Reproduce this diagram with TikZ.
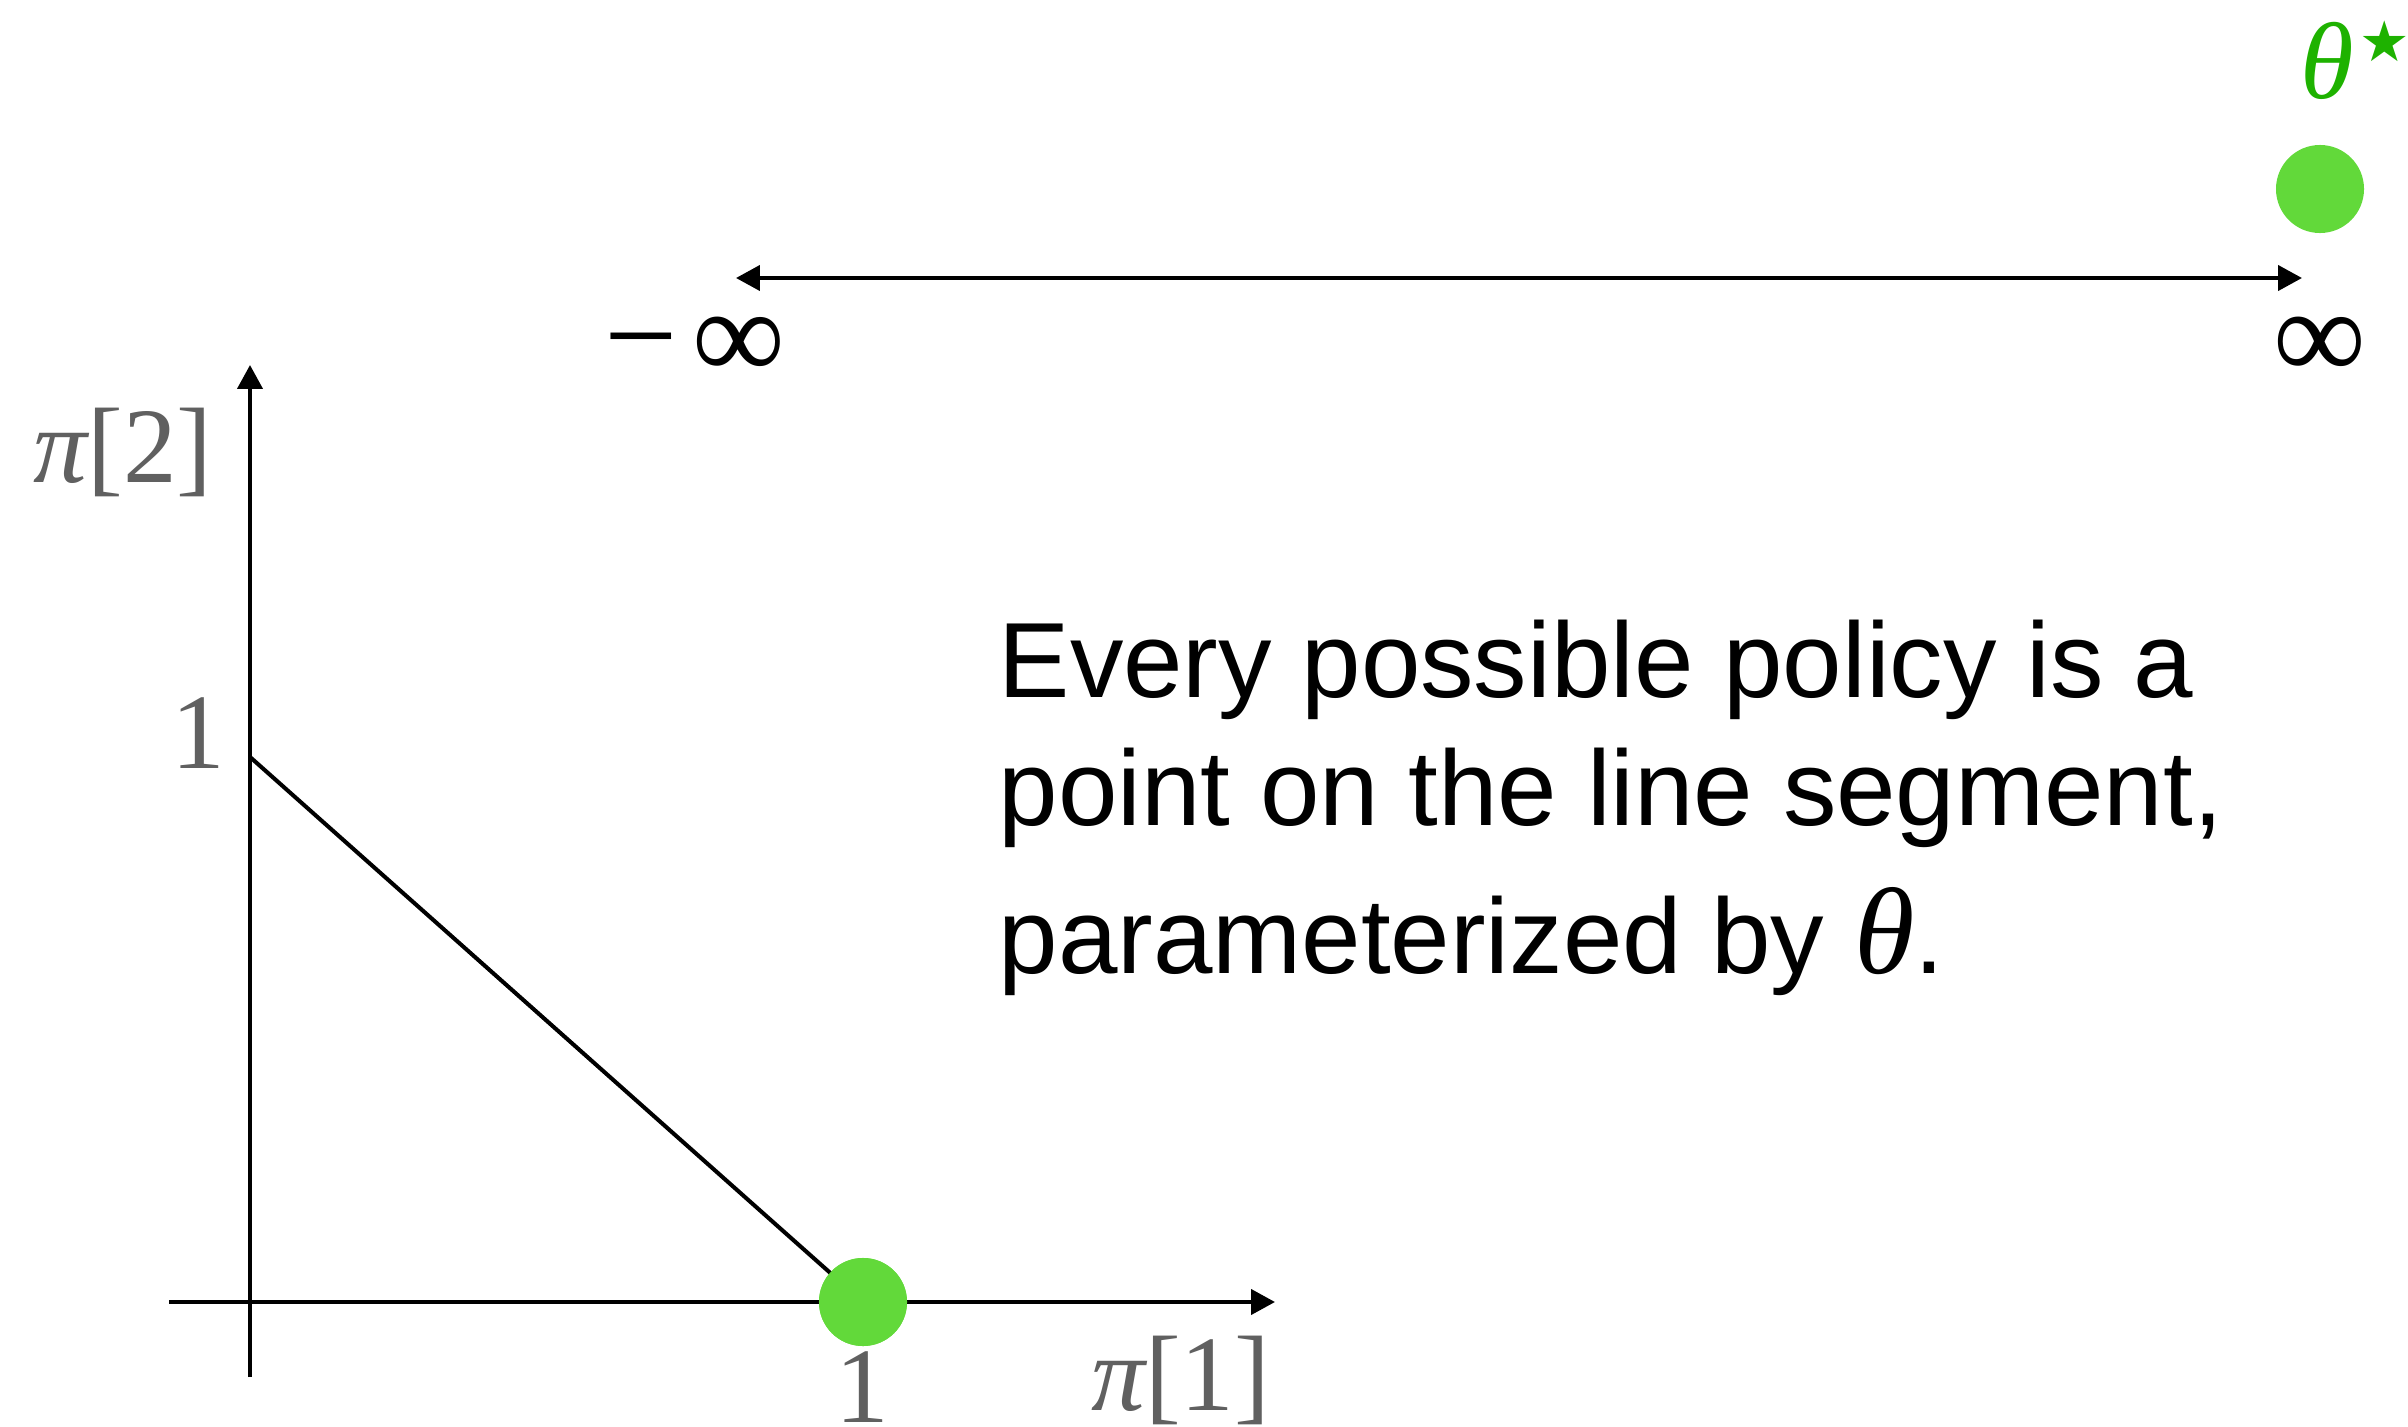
\documentclass[tikz,border=0pt]{standalone}
\usepackage{fontspec}
\setmainfont{Liberation Sans}
\newfontfamily\lblserif{Liberation Serif}
\newfontfamily\symfont{DejaVu Sans}
\usetikzlibrary{arrows.meta}
\definecolor{dotgreen}{RGB}{98,217,58}
\definecolor{labelgreen}{RGB}{30,178,0}
\definecolor{axisgray}{RGB}{96,96,96}
\begin{document}
\begin{tikzpicture}[x=0.01cm,y=-0.01cm,
  arrowline/.style={line width=1.15pt,-{Triangle[length=6.8pt,width=7.1pt]}},
  bothline/.style={line width=1.15pt,{Triangle[length=6.8pt,width=7.1pt]}-{Triangle[length=6.8pt,width=7.1pt]}},
  segline/.style={line width=1.15pt},
  dot/.style={circle,fill=dotgreen,draw=none,minimum size=0.88cm,inner sep=0pt},
  graylbl/.style={inner sep=0pt,text=axisgray,font=\lblserif\fontsize{30.5pt}{36pt}\selectfont},
  inflbl/.style={inner sep=0pt,font=\lblserif\fontsize{37pt}{42pt}\selectfont},
  body/.style={inner sep=0pt,font=\fontsize{30.4pt}{38pt}\selectfont}]
\useasboundingbox (0,0) rectangle (2408,1427);

% axes of the policy simplex
\coordinate (xstart) at (169,1302);
\coordinate (xend) at (1275,1302);
\coordinate (ystart) at (250,1377);
\coordinate (yend) at (250,365);
\coordinate (yone) at (250,757);
\draw[arrowline] (xstart) -- (xend);
\draw[arrowline] (ystart) -- (yend);

% the segment of all policies, ending at the optimal one
\node[dot] (pidot) at (863,1302) {};
\draw[segline] (yone) -- (pidot.center);
\node[dot] at (pidot) {};

% axis labels
\node[graylbl,anchor=base] (ytick) at (198,768) {1};
\node[graylbl,anchor=base west] (ylab) at (33,482) {\itshape π\upshape[2]};
\node[graylbl,anchor=base] (xtick) at (862,1422) {1};
\node[graylbl,anchor=base east] (xlab) at (1271,1410) {\itshape π\upshape[1]};

% parameter line
\coordinate (tleft) at (736,278);
\coordinate (tright) at (2302,278);
\draw[bothline] (tleft) -- (tright);
\node[inflbl,anchor=base] (minf) at (695,379) {−\hspace{0.12em}∞};
\node[inflbl,anchor=base] (pinf) at (2320,379) {∞};
\node[dot] (thdot) at (2320,189) {};
\node[inner sep=0pt,anchor=base west,text=labelgreen,font=\lblserif\fontsize{31pt}{36pt}\selectfont] (thlab) at (2300,98)
  {\itshape θ\upshape\hspace{0.05em}\raisebox{10.5pt}{\symfont\fontsize{16pt}{18pt}\selectfont ★}};

% explanation
\node[body,anchor=base west] (l1) at (998,697) {Every possible policy is a};
\node[body,anchor=base west] (l2) at (998,825) {point on the line segment,};
\node[body,anchor=base west] (l3) at (998,973) {parameterized by {\lblserif\itshape\fontsize{35pt}{40pt}\selectfont θ}.};
\end{tikzpicture}
\end{document}
